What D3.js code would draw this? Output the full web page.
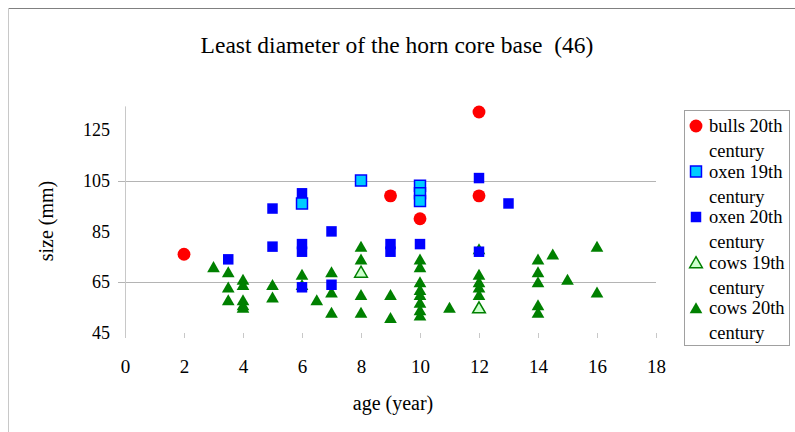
<!DOCTYPE html>
<html>
<head>
<meta charset="utf-8">
<script src="https://d3js.org/d3.v7.min.js"></script>
<style>
  body { margin: 0; background: #fff; }
</style>
</head>
<body>
<div id="chart-area"></div>
<script>
// data (age in years, size in mm)
var bullsAge = [2, 9, 10, 12, 12]
var bullsSize = [76, 99, 90, 132, 99]

var oxen19Age = [6, 8, 10, 10, 10]
var oxen19Size = [96, 105, 103, 100, 97]

var oxen20Age = [3.5, 5, 5, 6, 6, 6, 6, 7, 7, 9, 9, 10, 12, 12, 13]
var oxen20Size = [74, 94, 79, 100, 80, 77, 63, 85, 64, 80, 77, 80, 106, 77, 96]

var cows19Age = [8, 12]
var cows19Size = [69, 55]

var cows20Age = [3, 3.5, 3.5, 3.5, 4, 4, 4, 4, 4, 5, 5, 6, 6, 6.5, 7, 7, 7,
  8, 8, 8, 8, 9, 9, 10, 10, 10, 10, 10, 10, 10, 10, 11,
  12, 12, 12, 12, 12, 14, 14, 14, 14, 14, 14.5, 15, 16, 16]
var cows20Size = [71, 69, 63, 58, 66, 64, 58, 56, 55, 64, 59, 68, 64, 58, 69, 61, 53,
  79, 74, 60, 53, 60, 51, 74, 71, 65, 62, 60, 57, 54, 52, 55,
  78, 68, 65, 63, 60, 74, 69, 65, 56, 53, 76, 66, 79, 61]

var xTicks = [0, 2, 4, 6, 8, 10, 12, 14, 16, 18]
var yTicks = [45, 65, 85, 105, 125]
var yGrid = [65, 105]

var seriesNames = ["bulls 20th", "oxen 19th", "oxen 20th", "cows 19th", "cows 20th"]

var serif = "'Liberation Serif'"
var width = 795
var height = 432

var svg = d3.select("#chart-area")
  .append("svg")
  .attr("width", width)
  .attr("height", height)

// outer frame (only top and left edges show)
svg.append("line")
  .attr("x1", 8).attr("y1", 8.5).attr("x2", width).attr("y2", 8.5)
  .attr("stroke", "#808080")
svg.append("line")
  .attr("x1", 8.5).attr("y1", 8).attr("x2", 8.5).attr("y2", height)
  .attr("stroke", "#c8c8c8")

var x = d3.scaleLinear()
  .domain([0, 18])
  .range([125, 656])

var y = d3.scaleLinear()
  .domain([45, 135])
  .range([333, 104.4])

// title
svg.append("text")
  .text("Least diameter of the horn core base  (46)")
  .attr("x", 397)
  .attr("y", 53)
  .attr("text-anchor", "middle")
  .style("font-family", serif)
  .style("font-size", "23.5px")
  .style("white-space", "pre")

// gridlines
svg.selectAll(".grid")
  .data(yGrid)
  .enter()
  .append("line")
  .attr("class", "grid")
  .attr("x1", x(0) - 7)
  .attr("x2", x(18))
  .attr("y1", d => Math.round(y(d)) + 0.5)
  .attr("y2", d => Math.round(y(d)) + 0.5)
  .attr("stroke", "#b4b4b4")

// y axis line
svg.append("line")
  .attr("x1", x(0) + 0.5).attr("x2", x(0) + 0.5)
  .attr("y1", y(135) + 2).attr("y2", y(45) + 5)
  .attr("stroke", "#c8c8c8")

// x axis: tick marks + labels, no baseline
var xAxisCall = d3.axisBottom(x)
  .tickValues(xTicks)
  .tickSize(5)
  .tickPadding(22)

var xAxis = svg.append("g")
  .attr("class", "x axis")
  .attr("transform", "translate(0," + y(45) + ")")
  .call(xAxisCall)
xAxis.attr("font-family", null)
xAxis.select(".domain").remove()
xAxis.selectAll("line").attr("stroke", "#c8c8c8")
xAxis.selectAll("text")
  .style("font-family", serif)
  .style("font-size", "19px")

// y axis labels only
var yAxisCall = d3.axisLeft(y)
  .tickValues(yTicks)
  .tickSize(0)
  .tickPadding(15)

var yAxis = svg.append("g")
  .attr("class", "y axis")
  .attr("transform", "translate(" + x(0) + ",0)")
  .call(yAxisCall)
yAxis.attr("font-family", null)
yAxis.select(".domain").remove()
yAxis.selectAll("text")
  .style("font-family", serif)
  .style("font-size", "18px")

// axis titles
svg.append("text")
  .text("age (year)")
  .attr("x", 393)
  .attr("y", 410)
  .attr("text-anchor", "middle")
  .style("font-family", serif)
  .style("font-size", "20px")

svg.append("text")
  .text("size (mm)")
  .attr("transform", "translate(53,221) rotate(-90)")
  .attr("text-anchor", "middle")
  .style("font-family", serif)
  .style("font-size", "20px")

// markers
var circle = d3.symbol().type(d3.symbolCircle).size(130)
var square = d3.symbol().type(d3.symbolSquare).size(110)
var bigSquare = d3.symbol().type(d3.symbolSquare).size(120)
var triangle = d3.symbol().type(d3.symbolTriangle).size(70)

function plot(ages, sizes, path, fill, stroke, sw, dy) {
  svg.append("g")
    .selectAll("path")
    .data(ages.map((a, i) => [a, sizes[i]]))
    .enter()
    .append("path")
    .attr("d", path)
    .attr("transform", d => "translate(" + x(d[0]) + "," + (y(d[1]) + dy) + ")")
    .attr("fill", fill)
    .attr("stroke", stroke)
    .attr("stroke-width", sw)
}

plot(cows20Age, cows20Size, triangle, "#008000", "none", 0, 1.5)
plot(cows19Age, cows19Size, triangle, "#ccffcc", "#008000", 1.5, 1.5)
plot(oxen20Age, oxen20Size, square, "#0000ff", "none", 0, 0)
plot(oxen19Age, oxen19Size, bigSquare, "#00ccff", "#0000ff", 1.5, 0)
plot(bullsAge, bullsSize, circle, "#ff0000", "none", 0, 0)

// legend
var legend = svg.append("g")
legend.append("rect")
  .attr("x", 684.5)
  .attr("y", 110.5)
  .attr("width", 105)
  .attr("height", 235)
  .attr("fill", "#fff")
  .attr("stroke", "#a0a0a0")

var legendStyles = [
  { path: circle, fill: "#ff0000", stroke: "none", sw: 0, dy: 0 },
  { path: bigSquare, fill: "#00ccff", stroke: "#0000ff", sw: 1.5, dy: 0 },
  { path: square, fill: "#0000ff", stroke: "none", sw: 0, dy: 0 },
  { path: triangle, fill: "#ccffcc", stroke: "#008000", sw: 1.5, dy: 1.5 },
  { path: triangle, fill: "#008000", stroke: "none", sw: 0, dy: 1.5 }
]

seriesNames.forEach(function(name, i) {
  var cy = 126 + i * 45.5
  var s = legendStyles[i]
  legend.append("path")
    .attr("d", s.path)
    .attr("transform", "translate(696," + (cy + s.dy) + ")")
    .attr("fill", s.fill)
    .attr("stroke", s.stroke)
    .attr("stroke-width", s.sw)
  legend.append("text")
    .text(name)
    .attr("x", 709)
    .attr("y", cy + 6)
    .style("font-family", serif)
    .style("font-size", "18.5px")
  legend.append("text")
    .text("century")
    .attr("x", 709)
    .attr("y", cy + 31)
    .style("font-family", serif)
    .style("font-size", "18.5px")
})
</script>
</body>
</html>
